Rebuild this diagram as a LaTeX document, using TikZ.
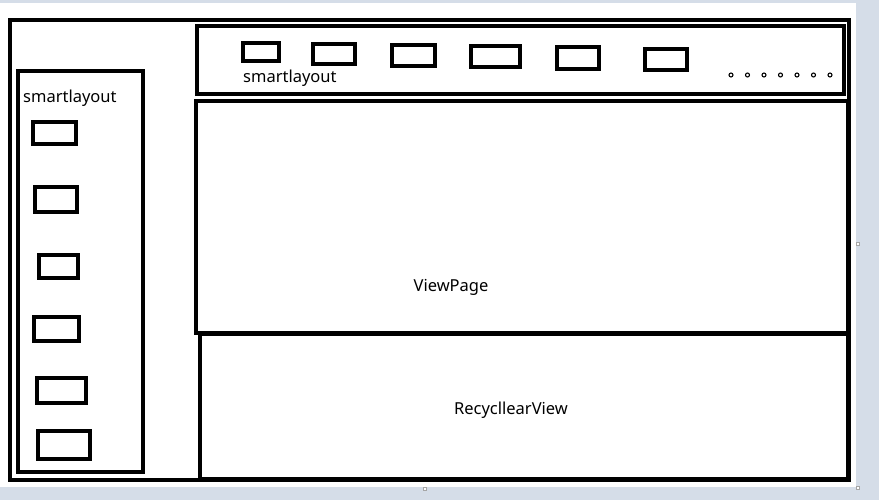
\documentclass[tikz,border=0pt]{standalone}
\usepackage{fontspec}
\setmainfont{Noto Sans}
\usepackage{xcolor}
\usepackage{tikz}
\definecolor{deskgray}{HTML}{D5DDE8}
\definecolor{inkblack}{HTML}{000000}

\begin{document}
\begin{tikzpicture}[x=1pt,y=-1pt,
  panel/.style={rectangle,draw=inkblack,line width=3.6pt,inner sep=0pt,outer sep=0pt},
  slot/.style={rectangle,draw=inkblack,line width=3.2pt,inner sep=0pt,outer sep=0pt},
  tag/.style={font=\fontsize{16.5}{18}\selectfont,inner sep=0pt,text=inkblack},
  handle/.style={rectangle,draw=gray!70,line width=0.6pt,fill=white,minimum size=3.5pt,inner sep=0pt}]
% canvas
\fill[deskgray] (0,0) rectangle (879,500);
\fill[white] (0,3) rectangle (856,487);
\useasboundingbox (0,0) rectangle (879,500);
% frames
\node[panel,minimum width=839pt,minimum height=460pt] (frame) at (429.5,250) {};
\node[panel,minimum width=647pt,minimum height=68pt] (tabbar) at (520.5,60) {};
\node[panel,minimum width=652pt,minimum height=232pt] (viewpage) at (522,217) {};
\node[panel,minimum width=648pt,minimum height=145pt] (recycler) at (524,406.5) {};
\node[panel,minimum width=125pt,minimum height=401pt] (sidebar) at (80.5,271.5) {};
% side items
\foreach \i/\cx/\cy/\w/\h in {1/54.5/133/43/22,2/56/199.5/42/25,3/58.5/266.5/39/23,
                              4/56.5/329/45/24,5/61.5/390.5/49/25,6/64/445/52/28}
  \node[slot,minimum width=\w pt,minimum height=\h pt] (side\i) at (\cx,\cy) {};
% tab items
\foreach \i/\cx/\cy/\w/\h in {1/261/52/36/18,2/334/54/42/20,3/413.5/55.5/43/21,
                              4/495.5/56.5/49/21,5/578/58/42/22,6/666/59.5/42/21}
  \node[slot,minimum width=\w pt,minimum height=\h pt] (tab\i) at (\cx,\cy) {};
% more dots
\foreach \i in {0,...,6}
  \draw[inkblack,line width=1.1pt] (731+16.5*\i,75) circle (2pt);
% labels
\node[tag,anchor=west] (sidelabel) at (23,98) {smartlayout};
\node[tag,anchor=west] (tablabel) at (243,78) {smartlayout};
\node[tag] (viewlabel) at (451,287) {ViewPage};
\node[tag] (recyclelabel) at (511,410) {RecycllearView};
% selection handles
\node[handle] (h1) at (858,244) {};
\node[handle] (h2) at (858,488) {};
\node[handle] (h3) at (425,489) {};
\end{tikzpicture}
\end{document}
